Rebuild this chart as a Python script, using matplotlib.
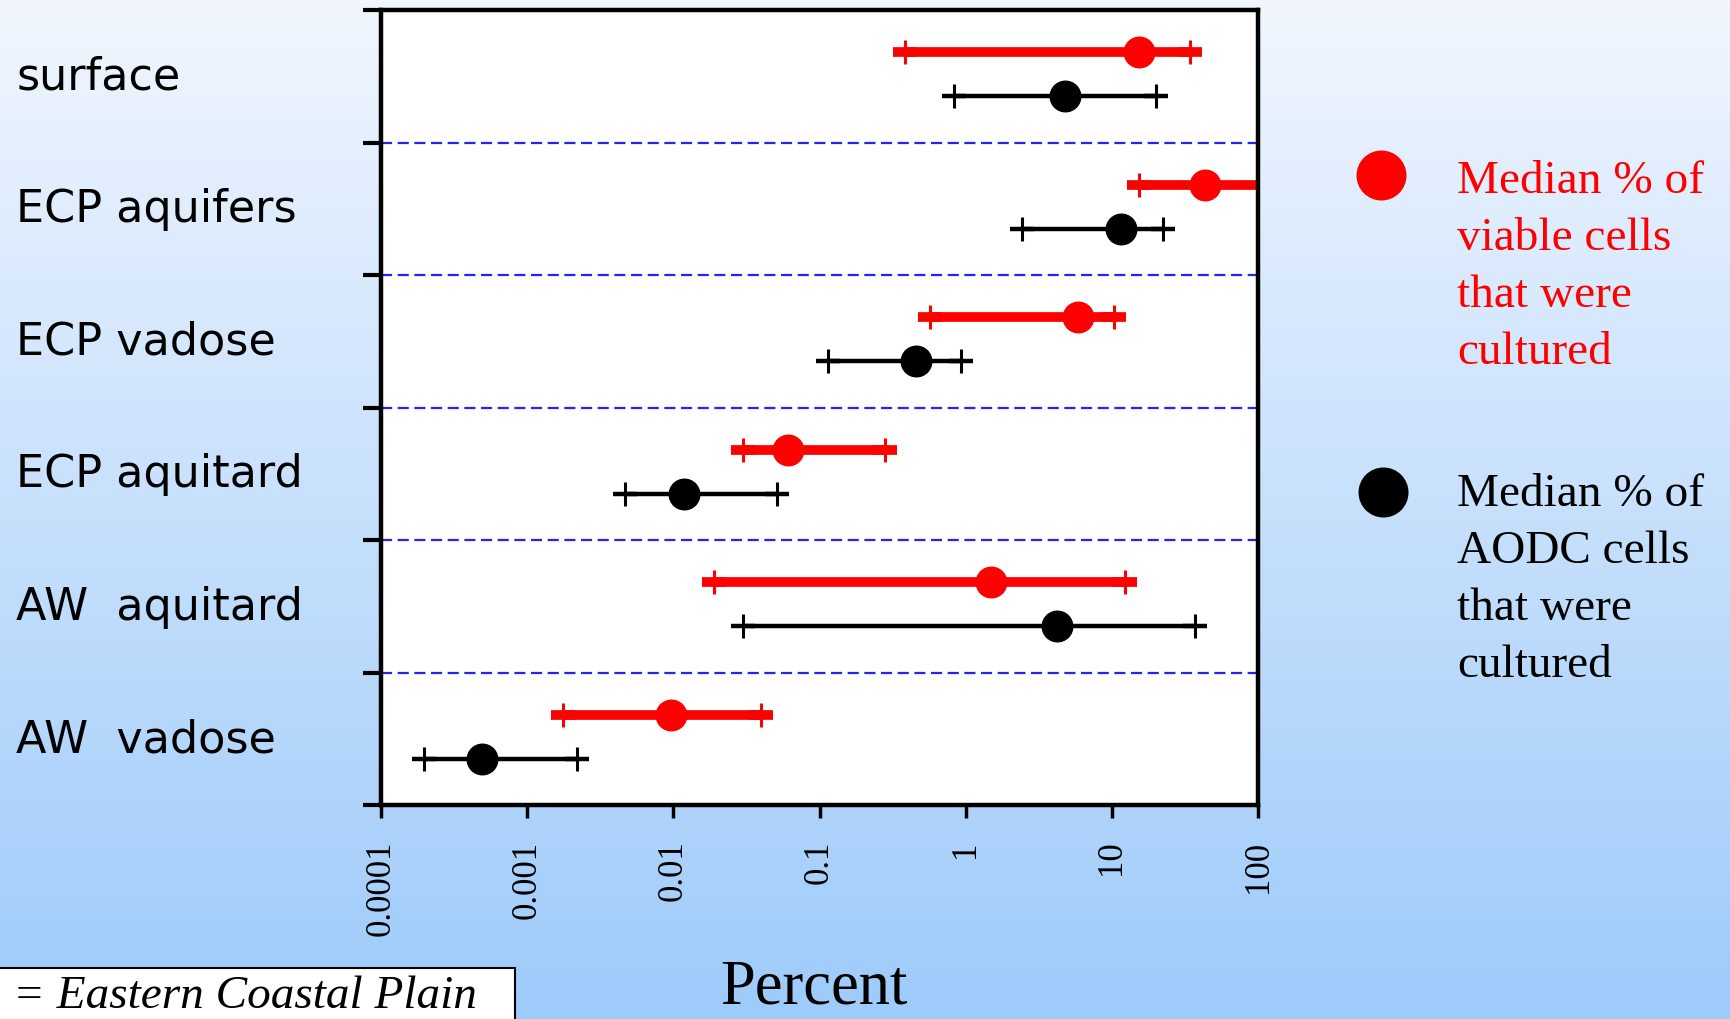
import numpy as np
import matplotlib.pyplot as plt
from matplotlib.patches import Rectangle
from matplotlib.lines import Line2D

# data (percent, log scale)
categories = ['surface', 'ECP aquifers', 'ECP vadose', 'ECP aquitard', 'AW  aquitard', 'AW  vadose']
viable_median = [15.3, 43.0, 5.9, 0.061, 1.5, 0.0097]
viable_low = [0.385, 15.3, 0.57, 0.030, 0.019, 0.00176]
viable_high = [34.0, 150.0, 10.4, 0.28, 12.2, 0.040]
aodc_median = [4.8, 11.6, 0.46, 0.0119, 4.2, 0.00049]
aodc_low = [0.83, 2.43, 0.114, 0.0047, 0.030, 0.000197]
aodc_high = [20.0, 22.4, 0.93, 0.051, 37.0, 0.0022]
xticks = [1e-4, 1e-3, 1e-2, 1e-1, 1, 10, 100]
xticklabels = ['0.0001', '0.001', '0.01', '0.1', '1', '10', '100']

serif = 'Liberation Serif'

fig = plt.figure(figsize=(17.31, 10.20), dpi=100)

# background gradient
bg = fig.add_axes([0, 0, 1, 1], zorder=-10)
top = np.array([241, 246, 254]) / 255
bot = np.array([157, 203, 250]) / 255
g = np.linspace(0, 1, 256)[:, None, None]
bg.imshow(top * (1 - g) + bot * g, aspect='auto', extent=[0, 1, 0, 1])
bg.axis('off')

ax = fig.add_axes([0.2201, 0.2098, 0.5067, 0.7794])
ax.set_facecolor('white')
ax.set_xscale('log')
ax.set_xlim(1e-4, 100)
ax.set_ylim(6, 0)

# dashed separators
ax.hlines(range(1, 6), 1e-4, 100, colors='#2323ff', lw=1.6, ls=(0, (5, 2.5)), zorder=1)

def draw_row(y, lo, med, hi, color, lw):
    ax.plot([lo, hi], [y, y], color=color, lw=lw, solid_capstyle='butt', zorder=2)
    ax.plot([lo, hi], [y, y], ls='none', marker='_', ms=17, mew=lw, color=color, zorder=2)
    ax.plot([lo, hi], [y, y], ls='none', marker='|', ms=17, mew=2.2, color=color, zorder=3)
    ax.plot([med], [y], ls='none', marker='o', ms=22, color=color, zorder=4)

for i in range(len(categories)):
    draw_row(i + 0.32, viable_low[i], viable_median[i], viable_high[i], 'red', 7)
    draw_row(i + 0.65, aodc_low[i], aodc_median[i], aodc_high[i], 'black', 3.2)
    ax.text(-0.416, i + 0.5, categories[i], transform=ax.get_yaxis_transform(),
            ha='left', va='center', fontsize=32, family='DejaVu Sans')

ax.set_yticks(range(7))
ax.set_yticklabels([])
ax.tick_params(axis='y', direction='out', length=13, width=3)
ax.set_xticks(xticks)
ax.set_xticklabels(xticklabels, rotation=90, fontsize=25, family=serif)
ax.minorticks_off()
ax.tick_params(axis='x', direction='out', length=9, width=2.5, pad=16)
for s in ax.spines.values():
    s.set_linewidth(3.2)

fig.text(0.470, 0.002, 'Percent', ha='center', va='bottom', fontsize=45, family=serif)

# ECP note box, partly cut off at the bottom left
fig.add_artist(Rectangle((-0.01, -0.05), 0.3075, 0.1, transform=fig.transFigure,
                         facecolor='white', edgecolor='black', lw=1.5))
fig.text(0.0075, 0.002, '= Eastern Coastal Plain', ha='left', va='bottom',
         fontsize=34, family=serif, style='italic')

# legend
fig.add_artist(Line2D([0.7978], [0.827], marker='o', ms=35, color='red',
                      ls='none', transform=fig.transFigure))
fig.add_artist(Line2D([0.7990], [0.517], marker='o', ms=35, color='black',
                      ls='none', transform=fig.transFigure))
fig.text(0.8417, 0.738, 'Median % of\nviable cells\nthat were\ncultured', color='red',
         ha='left', va='center', fontsize=34, family=serif, linespacing=1.45)
fig.text(0.8417, 0.431, 'Median % of\nAODC cells\nthat were\ncultured', color='black',
         ha='left', va='center', fontsize=34, family=serif, linespacing=1.45)

fig.savefig('out.png', dpi=100)
